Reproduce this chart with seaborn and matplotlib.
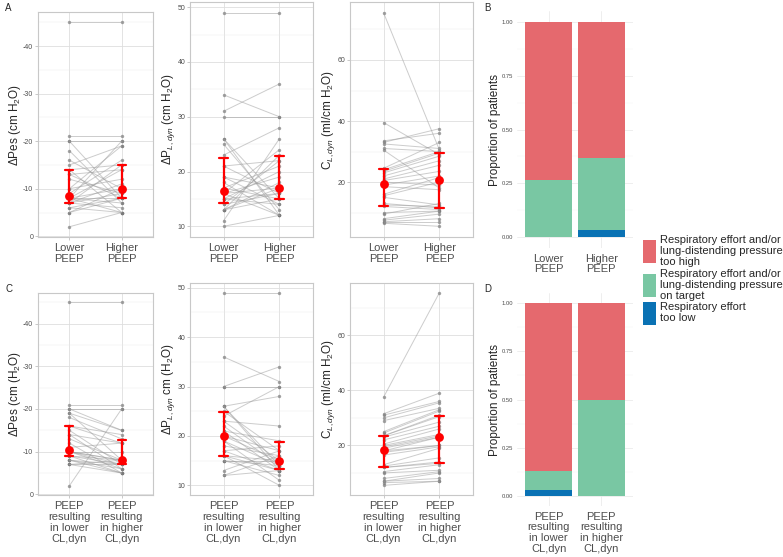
import numpy as np
import pandas as pd
import matplotlib
matplotlib.use('Agg')
import matplotlib.pyplot as plt
import seaborn as sns
from matplotlib.patches import Patch

# categorias do eixo x
cond_top = ['Lower\nPEEP', 'Higher\nPEEP']
cond_bot = ['PEEP\nresulting\nin lower\nCL,dyn', 'PEEP\nresulting\nin higher\nCL,dyn']

# A: valores pareados por paciente (n = 30)
pes_low_a = [-45, -21, -20, -20, -18, -16, -15, -14, -14, -13, -13, -12, -10, -10, -9,
             -8, -8, -8, -8, -8, -8, -7, -7, -7, -7, -6, -6, -5, -5, -2]
pes_high_a = [-45, -21, -20, -8, -7, -10, -19, -5, -15, -8, -14, -9, -19, -12, -16,
              -8, -5, -10, -14, -20, -7, -11, -9, -6, -15, -8, -5, -10, -8, -5]
pl_low_a = [49, 34, 31, 30, 26, 26, 25, 23, 21, 21, 19, 19, 18, 17, 17,
            16, 16, 16, 16, 15, 15, 15, 14, 14, 13, 13, 13, 13, 11, 10]
pl_high_a = [49, 30, 36, 30, 12, 15, 13, 28, 16, 22, 14, 17, 12, 21, 15,
             19, 17, 12, 24, 16, 20, 14, 16, 22, 17, 23, 18, 15, 26, 12]
cl_low_a = [75.5, 39.5, 33.5, 33, 32.5, 31, 30.5, 24.5, 24, 23.5, 23, 22, 21, 20.5, 20,
            19, 18.5, 16, 15.5, 15, 13, 12.5, 12, 10, 9.5, 8, 7.5, 7, 7, 6.5]
cl_high_a = [30.5, 29, 36, 37.5, 31, 30, 18, 33, 30, 29.5, 28.5, 27, 25.5, 23.5, 19,
             22, 17.5, 21.5, 20, 12.5, 11.5, 12, 11, 10.5, 13, 10.5, 9.5, 8, 7, 5.5]

# C: mesmos pacientes, agrupados pela PEEP com menor/maior CL,dyn
pes_low_c = [-45, -21, -20, -2, -20, -19, -19, -18, -16, -16, -15, -14, -14, -13, -12,
             -11, -10, -10, -10, -10, -10, -9, -9, -9, -8, -8, -8, -7, -7, -7]
pes_high_c = [-45, -21, -20, -20, -15, -15, -8, -13, -14, -12, -7, -12, -6, -8, -5,
              -12, -7, -8, -8, -10, -6, -5, -8, -7, -6, -7, -5, -8, -5, -7]
pl_low_c = [49, 36, 30, 30, 26, 26, 26, 25, 24, 23, 23, 22, 21, 21, 20,
            20, 19, 19, 18, 17, 17, 16, 16, 16, 15, 15, 15, 13, 12, 12]
pl_high_c = [49, 31, 34, 30, 28, 14, 13, 17, 30, 22, 15, 14, 19, 13, 17,
             15, 14, 11, 16, 13, 18, 15, 10, 13, 15, 14, 12, 17, 13, 16]
cl_low_c = [37.5, 31.5, 31, 30, 29, 25, 24.5, 23.5, 23.5, 23, 22, 20.5, 20, 19.5, 19,
            18, 18, 17.5, 16.5, 13, 12.5, 12, 12, 10.5, 10, 8, 7, 7, 6.5, 5.5]
cl_high_c = [75.5, 39, 36, 35.5, 33.5, 33, 32.5, 31, 30.5, 28.5, 27, 26, 24, 23.5, 23,
             23, 20, 20, 19.5, 19, 15.5, 14, 13.5, 13, 11, 10.5, 10, 8, 7, 7]

# B e D: número de pacientes por categoria
cat_names = ['Respiratory effort\ntoo low',
             'Respiratory effort and/or\nlung-distending pressure\non target',
             'Respiratory effort and/or\nlung-distending pressure\ntoo high']
cat_colors = ['#0A72B4', '#79C7A3', '#E5696E']
b_too_low = [0, 1]
b_on_target = [8, 10]
b_too_high = [22, 19]
d_too_low = [1, 0]
d_on_target = [3, 15]
d_too_high = [26, 15]

sns.set_style('white')
plt.rcParams['font.family'] = ['Liberation Sans', 'DejaVu Sans']
plt.rcParams['mathtext.fontset'] = 'custom'
plt.rcParams['mathtext.rm'] = 'Liberation Sans'
plt.rcParams['mathtext.it'] = 'Liberation Sans:italic'
plt.rcParams['mathtext.bf'] = 'Liberation Sans:bold'
plt.rcParams['axes.unicode_minus'] = False

W, H = 783, 557
fig = plt.figure(figsize=(W / 100, H / 100), dpi=100)


def box(left, top, right, bottom):
    return [left / W, 1 - bottom / H, (right - left) / W, (bottom - top) / H]


def paired(ax, low, high, xlabels, ylabel, ylim, major, minor):
    n = len(low)
    df = pd.DataFrame({'id': list(range(n)) * 2,
                       'x': [0] * n + [1] * n,
                       'y': list(low) + list(high)})
    sns.lineplot(data=df, x='x', y='y', units='id', estimator=None, color='#9A9A9A',
                 alpha=0.5, linewidth=0.7, legend=False, ax=ax)
    sns.scatterplot(data=df, x='x', y='y', color='#7A7A7A', alpha=0.7, s=6,
                    linewidth=0, legend=False, ax=ax)
    sns.pointplot(data=df, x='x', y='y', estimator='median', errorbar=('pi', 50),
                  native_scale=True, color='red', linestyle='none', marker='o',
                  markersize=4.3, capsize=0.15, err_kws={'linewidth': 1.6}, ax=ax)
    ax.set_xlim(-0.6, 1.6)
    ax.set_ylim(*ylim)
    ax.set_xticks([0, 1], xlabels)
    ax.set_yticks(major)
    ax.set_yticks(minor, minor=True)
    ax.set_xlabel('')
    ax.set_ylabel(ylabel, fontsize=8.5, labelpad=0)
    ax.grid(True, which='major', color='#DEDEDE', linewidth=0.6)
    ax.grid(True, which='minor', axis='y', color='#EBEBEB', linewidth=0.35)
    ax.set_axisbelow(True)
    for s in ax.spines.values():
        s.set_color('#C8C8C8')
        s.set_linewidth(0.8)
    ax.tick_params(axis='y', which='major', labelsize=5, labelcolor='#4D4D4D',
                   color='#B3B3B3', length=2, width=0.5, pad=1.5, left=True)
    ax.tick_params(axis='y', which='minor', length=0)
    ax.tick_params(axis='x', labelsize=8, labelcolor='#4D4D4D', color='#B3B3B3',
                   length=2, width=0.5, pad=2.5, bottom=True)
    for t in ax.get_xticklabels():
        t.set_linespacing(1.1)


def stacked(ax, too_low, on_target, too_high, xlabels):
    counts = np.array([too_low, on_target, too_high], dtype=float)
    props = counts / counts.sum(axis=0)
    bottom = np.zeros(2)
    for p, c in zip(props, cat_colors):
        ax.bar([0, 1], p, bottom=bottom, width=0.9, color=c, linewidth=0, zorder=2)
        bottom += p
    ax.set_xlim(-0.6, 1.6)
    ax.set_ylim(-0.05, 1.05)
    ax.set_xticks([0, 1], xlabels)
    ax.set_yticks([0, 0.25, 0.5, 0.75, 1.0], ['0.00', '0.25', '0.50', '0.75', '1.00'])
    ax.set_yticks([0.125, 0.375, 0.625, 0.875], minor=True)
    ax.set_ylabel('Proportion of patients', fontsize=8.5, labelpad=0.5)
    ax.grid(True, which='major', color='#EBEBEB', linewidth=0.6)
    ax.grid(True, which='minor', axis='y', color='#F3F3F3', linewidth=0.35)
    ax.set_axisbelow(True)
    for s in ax.spines.values():
        s.set_visible(False)
    ax.tick_params(axis='y', labelsize=4.2, labelcolor='#4D4D4D', length=0, pad=3)
    ax.tick_params(axis='y', which='minor', length=0)
    ax.tick_params(axis='x', labelsize=8, labelcolor='#4D4D4D', length=0, pad=4)
    for t in ax.get_xticklabels():
        t.set_linespacing(1.1)


pes_lim = (0.15, -47.15)
pes_major = [0, -10, -20, -30, -40]
pes_minor = [-5, -15, -25, -35, -45]
pl_lim = (8.05, 50.95)
pl_major = [10, 20, 30, 40, 50]
pl_minor = [15, 25, 35, 45]
cl_lim = (2.0, 79.0)
cl_major = [20, 40, 60]
cl_minor = [10, 30, 50, 70]

ax = fig.add_axes(box(38, 12, 153, 237))
paired(ax, pes_low_a, pes_high_a, cond_top, 'ΔPes (cm H$_2$O)', pes_lim, pes_major, pes_minor)
ax = fig.add_axes(box(190, 2, 313, 237))
paired(ax, pl_low_a, pl_high_a, cond_top, 'ΔP$_{L,dyn}$ (cm H$_2$O)', pl_lim, pl_major, pl_minor)
ax = fig.add_axes(box(350, 2, 473, 237))
paired(ax, cl_low_a, cl_high_a, cond_top, 'C$_{L,dyn}$ (ml/cm H$_2$O)', cl_lim, cl_major, cl_minor)
ax = fig.add_axes(box(517, 11, 633, 248))
stacked(ax, b_too_low, b_on_target, b_too_high, cond_top)

ax = fig.add_axes(box(38, 293, 153, 495))
paired(ax, pes_low_c, pes_high_c, cond_bot, 'ΔPes (cm (H$_2$O)', pes_lim, pes_major, pes_minor)
ax = fig.add_axes(box(190, 283, 313, 495))
paired(ax, pl_low_c, pl_high_c, cond_bot, 'ΔP$_{L,dyn}$ cm (H$_2$O)', pl_lim, pl_major, pl_minor)
ax = fig.add_axes(box(350, 283, 473, 495))
paired(ax, cl_low_c, cl_high_c, cond_bot, 'C$_{L,dyn}$ (ml/cm H$_2$O)', cl_lim, cl_major, cl_minor)
ax = fig.add_axes(box(517, 293, 633, 506))
stacked(ax, d_too_low, d_on_target, d_too_high, cond_bot)

for letter, x, y in [('A', 5, 8), ('B', 484, 8), ('C', 5, 289), ('D', 484, 289)]:
    fig.text(x / W, 1 - y / H, letter, fontsize=7, va='center', ha='left')

handles = [Patch(facecolor=c, edgecolor='none') for c in cat_colors[::-1]]
leg = fig.legend(handles, cat_names[::-1], loc='upper left',
                 bbox_to_anchor=(643 / W, 1 - 235 / H), frameon=False, fontsize=8,
                 handlelength=1.15, handleheight=2.8, handletextpad=0.35,
                 labelspacing=0.1, borderpad=0, borderaxespad=0)
for t in leg.get_texts():
    t.set_linespacing(1.15)

fig.savefig('out.png', dpi=100)
